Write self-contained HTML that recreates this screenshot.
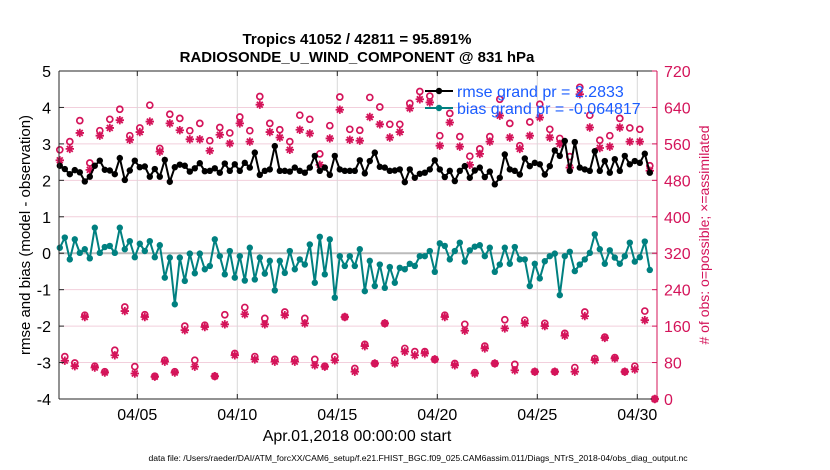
<!DOCTYPE html>
<html><head><meta charset="utf-8"><style>
html,body{margin:0;padding:0;background:#fff;}
svg{display:block;font-family:"Liberation Sans",Arial,sans-serif;}
</style></head><body>
<svg id="chart" width="830" height="470" viewBox="0 0 830 470">
<text x="357" y="44" text-anchor="middle" font-size="15" font-weight="bold">Tropics 41052 / 42811 = 95.891%</text>
<text x="357" y="62" text-anchor="middle" font-size="15" font-weight="bold">RADIOSONDE_U_WIND_COMPONENT @ 831 hPa</text>
<g id="grid"></g>
<g id="marks"></g>
<g id="axes"></g>
<text transform="translate(30,235) rotate(-90)" text-anchor="middle" font-size="15">rmse and bias (model - observation)</text>
<text transform="translate(709,235) rotate(-90)" text-anchor="middle" font-size="14" fill="#d4145a"># of obs: o=possible; ×=assimilated</text>
<text x="357" y="441" text-anchor="middle" font-size="16">Apr.01,2018 00:00:00 start</text>
<text x="418" y="461" text-anchor="middle" font-size="8.6">data file: /Users/raeder/DAI/ATM_forcXX/CAM6_setup/f.e21.FHIST_BGC.f09_025.CAM6assim.011/Diags_NTrS_2018-04/obs_diag_output.nc</text>
<g id="legend"></g>
</svg>
<script>
const rmse=[2.40,2.31,2.17,2.28,2.22,1.97,2.10,2.40,2.54,2.29,2.27,2.17,2.61,2.01,2.27,2.54,2.36,2.38,2.10,2.31,2.10,2.56,1.96,2.36,2.43,2.40,2.24,2.33,2.47,2.25,
2.26,2.33,2.21,2.46,2.26,2.44,2.26,2.48,2.35,2.76,2.15,2.26,2.30,2.94,2.26,2.26,2.24,2.35,2.26,2.21,2.35,2.67,2.26,2.35,2.15,2.67,2.30,2.26,2.26,
2.26,2.55,2.19,2.53,2.76,2.37,2.35,2.26,2.27,2.30,1.95,2.30,2.07,2.18,2.21,2.30,2.55,2.30,2.09,2.26,1.98,2.26,2.39,2.07,2.27,2.35,2.09,2.24,1.89,
2.07,2.71,2.30,2.26,2.16,2.60,2.39,2.48,2.44,2.16,2.39,2.82,2.67,3.08,2.26,3.05,2.35,2.30,2.26,2.80,2.26,2.53,2.21,2.58,2.26,2.67,2.44,2.53,2.48,2.73,2.21];
const bias=[0.15,0.43,-0.17,0.38,0.01,0.11,-0.14,0.70,0.01,0.17,0.20,0.01,0.70,0.11,0.33,-0.11,0.26,0.06,0.33,-0.11,0.22,-0.67,-0.12,-1.40,-0.12,-0.76,-0.01,-0.55,-0.01,-0.44,
-0.35,0.38,-0.08,-0.58,0.06,-0.67,-0.08,-0.75,0.15,-0.72,-0.12,-0.56,-0.21,-1.02,-0.21,-0.54,0.06,-0.44,-0.17,-0.31,0.24,-0.81,0.45,-0.58,0.38,-1.22,-0.08,-0.35,-0.08,
-0.35,0.11,-1.04,-0.21,-0.90,-0.31,-0.95,-0.38,-0.81,-0.40,-0.44,-0.29,-0.35,-0.08,-0.08,0.06,-0.51,0.27,0.20,-0.17,0.06,0.29,-0.23,0.08,0.18,0.22,-0.08,0.15,-0.51,
-0.31,0.15,-0.29,0.17,-0.17,-0.17,-0.90,-0.29,-0.69,-0.22,-0.08,-0.01,-1.15,-0.08,0.04,-0.49,-0.31,-0.17,0.01,0.52,0.11,-0.29,0.08,-0.12,-0.29,-0.08,0.29,-0.23,-0.11,0.32,-0.46];
const possible=[547,93,565,79,611,184,518,72,589,60,614,107,636,202,578,71,595,185,645,50,550,85,625,60,616,160,589,85,605,162,
567,50,596,185,584,100,619,201,589,93,664,177,605,87,591,191,565,87,623,177,614,87,538,72,600,93,663,180,592,
67,590,120,662,78,641,166,603,85,603,111,649,104,675,104,665,87,578,184,627,78,576,164,533,58,549,116,576,78,
658,174,605,76,556,173,608,60,647,166,592,60,572,144,532,69,684,191,623,89,568,136,578,91,616,60,595,72,592,193,512,0];
const assimilated=[524,84,549,72,584,180,503,69,578,58,595,96,612,193,569,56,586,180,609,49,543,82,605,58,590,151,570,71,570,158,
545,50,580,164,561,96,605,186,565,87,646,164,586,82,574,184,547,82,591,166,583,74,514,71,572,85,635,180,569,
60,567,116,619,78,603,166,574,78,586,104,638,96,658,100,651,87,556,180,607,74,554,150,514,56,538,111,565,78,
622,155,574,63,549,166,578,60,618,160,574,60,560,139,508,60,669,182,596,85,551,134,554,89,596,60,565,65,565,173,501,0];
const leftTicks=[-4,-3,-2,-1,0,1,2,3,4,5];
const rightTicks=[0,80,160,240,320,400,480,560,640,720];
const dateTickDays=[4,9,14,19,24,29];
const dateTickLabels=["04/05","04/10","04/15","04/20","04/25","04/30"];
const legendLabels=["rmse grand pr = 2.2833","bias grand pr = -0.064817"];

const L=59,R=657,T=71,B=399,TMIN=0.085,TMAX=29.985;
const NS="http://www.w3.org/2000/svg";
function xs(t){return L+(t-TMIN)/(TMAX-TMIN)*(R-L);}
function yl(v){return B-(v+4)/9*(B-T);}
function yr(c){return B-c/720*(B-T);}
function tOf(i){return 0.125+0.25*i;}
function mk(tag,attrs,parent){const e=document.createElementNS(NS,tag);for(const k in attrs)e.setAttribute(k,attrs[k]);parent.appendChild(e);return e;}
const PINK="#d4145a",TEAL="#008080";
const grid=document.getElementById('grid'),marks=document.getElementById('marks'),axes=document.getElementById('axes'),leg=document.getElementById('legend');

leftTicks.forEach(v=>{
  if(v===-4||v===5)return;
  const g=mk('line',{x1:L,x2:R,y1:yl(v),y2:yl(v),stroke:'#f2cfdc','stroke-width':1},grid);
  
  
});
dateTickDays.forEach(d=>{
  const g=mk('line',{x1:xs(d),x2:xs(d),y1:T,y2:B,stroke:'#d8d8d8','stroke-width':1},grid);
  
  
});
const z=mk('line',{x1:L,x2:R,y1:yl(0),y2:yl(0),stroke:'#bbbbbb','stroke-width':2},grid);



for(let i=0;i<possible.length;i++){
  const x=xs(tOf(i));
  const c=mk('circle',{cx:x,cy:yr(possible[i]),r:3,fill:'none',stroke:PINK,'stroke-width':1.7},marks);
  
  
  const y=yr(assimilated[i]),s=4.2;
  const a=mk('path',{d:`M${x-s},${y}H${x+s}M${x},${y-s}V${y+s}M${x-s*0.7},${y-s*0.7}L${x+s*0.7},${y+s*0.7}M${x-s*0.7},${y+s*0.7}L${x+s*0.7},${y-s*0.7}`,stroke:PINK,'stroke-width':1.8,fill:'none'},marks);
  
  
}
function series(vals,color,name){
  const d=vals.map((v,i)=>(i?'L':'M')+xs(tOf(i)).toFixed(1)+','+yl(v).toFixed(1)).join('');
  const p=mk('path',{d:d,stroke:color,'stroke-width':2,fill:'none'},marks);
  
  
  vals.forEach((v,i)=>{
    const c=mk('circle',{cx:xs(tOf(i)),cy:yl(v),r:3.2,fill:color},marks);
    
    
  });
}
series(rmse,'#000','rmse');
series(bias,TEAL,'bias');

const f1=mk('path',{d:`M${L},${T}H${R}M${L},${B}H${R}M${L},${T}V${B}`,stroke:'#262626','stroke-width':1,fill:'none'},axes);


const ra=mk('line',{x1:R,x2:R,y1:T,y2:B,stroke:PINK,'stroke-width':1},axes);


leftTicks.forEach(v=>{
  const t=mk('line',{x1:L,x2:L+5,y1:yl(v),y2:yl(v),stroke:'#262626'},axes);
  
  
  const l=mk('text',{x:L-8,y:yl(v)+6,'text-anchor':'end','font-size':16},axes);
  l.textContent=v;
  
  
});
rightTicks.forEach(v=>{
  const t=mk('line',{x1:R-5,x2:R,y1:yr(v),y2:yr(v),stroke:PINK},axes);
  
  
  const l=mk('text',{x:R+7,y:yr(v)+6,'font-size':16,fill:PINK},axes);
  l.textContent=v;
  
  
});
dateTickDays.forEach((d,k)=>{
  const t=mk('path',{d:`M${xs(d)},${B}V${B-5}M${xs(d)},${T}V${T+5}`,stroke:'#262626'},axes);
  
  
  const l=mk('text',{x:xs(d),y:B+21,'text-anchor':'middle','font-size':16},axes);
  l.textContent=dateTickLabels[k];
  
  
});
[['#000',91],[TEAL,108]].forEach((c,k)=>{
  const ln=mk('line',{x1:425,x2:453,y1:c[1],y2:c[1],stroke:c[0],'stroke-width':2},leg);
  
  
  const dt=mk('circle',{cx:439,cy:c[1],r:3.2,fill:c[0]},leg);
  
  
  const tx=mk('text',{x:457,y:c[1]+6,'font-size':16,fill:'#1a5cff'},leg);
  tx.textContent=legendLabels[k];
  
  
});
</script>
</body></html>
